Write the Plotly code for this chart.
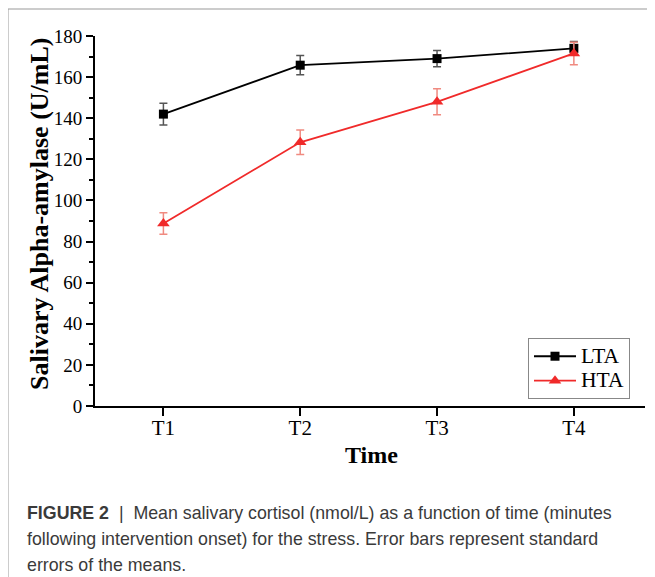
import plotly.graph_objects as go

categories = ["T1", "T2", "T3", "T4"]
lta_mean = [142.0, 165.8, 169.0, 174.0]
lta_err = [5.3, 4.7, 4.0, 3.3]
hta_mean = [88.8, 128.3, 148.0, 171.5]
hta_err = [5.2, 6.0, 6.3, 5.5]

OFF = 8  # page body margin
W, H = 655 - OFF, 577 - OFF
L, R, T, B = 95 - OFF, 10, 36 - OFF, 577 - 406
pw, ph = W - L - R, H - T - B

def px(x):
    # x in screen pixels -> paper coords
    return (x - OFF - L) / pw

def py(y):
    return (H - B - (y - OFF)) / ph

serif = "Liberation Serif"
sans = "Liberation Sans"

def big(name):
    return '<span style="font-size:21.5px">' + name + '</span>'

fig = go.Figure()
fig.add_trace(go.Scatter(
    x=categories, y=lta_mean, name=big("LTA"), mode="lines+markers",
    line=dict(color="black", width=1.8),
    marker=dict(symbol="square", size=9, color="black"),
    error_y=dict(type="data", array=lta_err, color="#555555", thickness=1.5, width=4),
))
fig.add_trace(go.Scatter(
    x=categories, y=hta_mean, name=big("HTA"), mode="lines+markers",
    line=dict(color="#f02a2a", width=1.8),
    marker=dict(symbol="triangle-up", size=11, color="#f02a2a"),
    error_y=dict(type="data", array=hta_err, color="#f08a80", thickness=1.5, width=4),
))

fig.update_layout(
    width=W, height=H,
    margin=dict(l=L, r=R, t=T, b=B),
    paper_bgcolor="white", plot_bgcolor="white",
    font=dict(family=serif, color="black"),
    showlegend=True,
    legend=dict(
        x=px(528), y=py(338), xanchor="left", yanchor="top",
        bordercolor="#888888", borderwidth=1, bgcolor="white",
        font=dict(family=serif, size=16.5, color="black"),
        itemwidth=42, tracegroupgap=0,
    ),
)
fig.update_xaxes(
    type="category", range=[-0.5, 3.52],
    showline=True, linecolor="black", linewidth=2,
    ticks="outside", ticklen=8, tickwidth=2, tickcolor="black",
    ticklabelstandoff=-6,
    showgrid=False, zeroline=False,
    tickfont=dict(family=serif, size=21, color="black"),
)
fig.update_yaxes(
    range=[0, 180], dtick=20, tick0=0,
    showline=True, linecolor="black", linewidth=2,
    ticks="outside", ticklen=7, tickwidth=2, tickcolor="black",
    minor=dict(ticks="outside", ticklen=4, tickwidth=2, tickcolor="black", dtick=10),
    showgrid=False, zeroline=False,
    tickfont=dict(family=serif, size=19, color="black"),
)

# frame around the figure
fig.add_shape(type="rect", xref="paper", yref="paper",
              x0=px(8), x1=px(680), y0=py(9), y1=py(620),
              line=dict(color="#999999", width=1), layer="below")

fig.add_annotation(text="<b>Time</b>", xref="paper", yref="paper",
                   x=px(371), y=py(455), xanchor="center", yanchor="middle",
                   showarrow=False,
                   font=dict(family=serif, size=24, color="black"))
fig.add_annotation(text="<b>Salivary Alpha-amylase (U/mL)</b>", xref="paper", yref="paper",
                   x=px(39), y=py(214), xanchor="center", yanchor="middle",
                   showarrow=False, textangle=-90,
                   font=dict(family=serif, size=26, color="black"))

caption = [
    "<b>FIGURE 2</b>  |  Mean salivary cortisol (nmol/L) as a function of time (minutes",
    "following intervention onset) for the stress. Error bars represent standard",
    "errors of the means.",
]
for i, line in enumerate(caption):
    fig.add_annotation(text=line, xref="paper", yref="paper",
                       x=px(25), y=py(513 + 26 * i), xanchor="left", yanchor="middle",
                       showarrow=False, align="left",
                       font=dict(family=sans, size=17.8, color="#3a3a3a"))

fig.write_html("out.html")
